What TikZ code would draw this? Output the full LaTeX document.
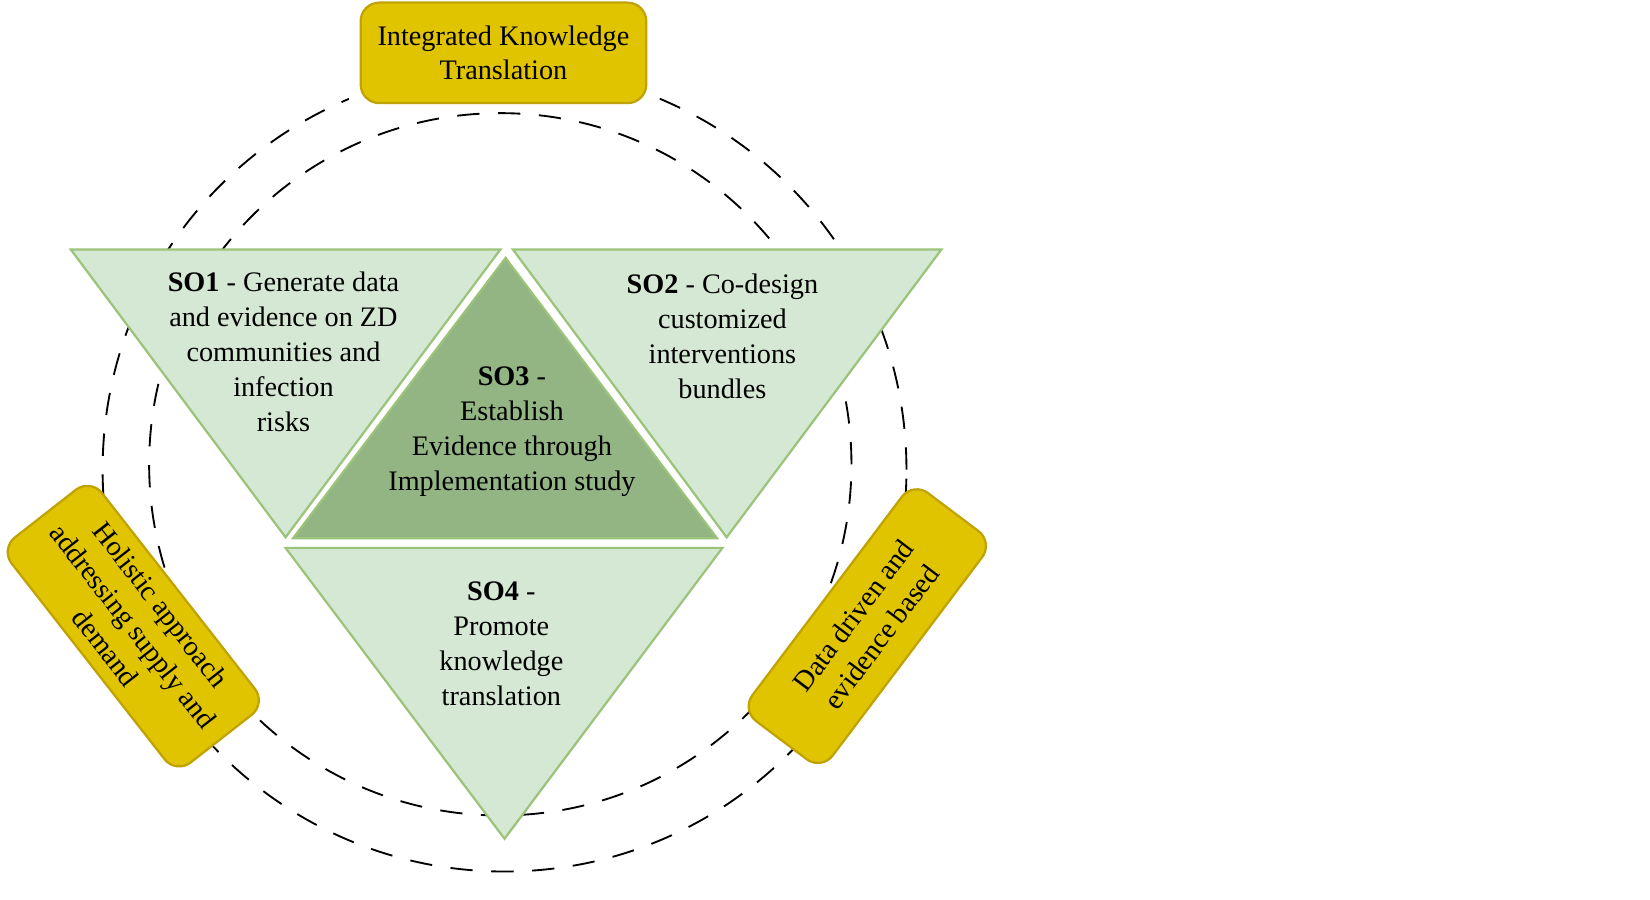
\documentclass[tikz,border=0pt]{standalone}
\usepackage{fontspec}
\setmainfont{Liberation Serif}
\usetikzlibrary{positioning}
\definecolor{lightso}{HTML}{D5E8D4}
\definecolor{darkso}{HTML}{93B584}
\definecolor{edgeso}{HTML}{9BC37A}
\definecolor{goldbox}{HTML}{E0C400}
\definecolor{goldedge}{HTML}{C0A200}
\tikzset{
	tri/.style={fill=lightso, draw=edgeso, line width=0.6pt},
	sotext/.style={align=center, font=\fontsize{7.6}{9.4}\selectfont},
	pillar/.style={fill=goldbox, draw=goldedge, rounded corners=5pt, line width=0.6pt, align=center, font=\fontsize{7.6}{9.4}\selectfont, minimum width=2.7cm, minimum height=0.95cm}
}
\begin{document}
\begin{tikzpicture}
	\useasboundingbox (0,0.5) rectangle (15.6,9);
	\draw[dashed, dash pattern=on 6pt off 5pt, line width=0.5pt] (4.77,4.56) circle (3.80);
	\draw[dashed, dash pattern=on 6pt off 5pt, line width=0.5pt] (4.73,4.61) circle (3.32);
	\fill[white] (3.3,8.0) rectangle (6.2,9);
	\draw[tri] (0.67,6.64) -- (4.73,6.64) -- (2.70,3.92) -- cycle;
	\draw[tri] (4.85,6.64) -- (8.90,6.64) -- (6.87,3.92) -- cycle;
	\draw[tri] (2.70,3.82) -- (6.83,3.82) -- (4.77,1.07) -- cycle;
	\draw[tri, fill=darkso, draw=white, line width=1.5pt] (4.78,6.62) -- (2.73,3.88) -- (6.82,3.88) -- cycle;
	\draw[tri, fill=darkso] (4.78,6.56) -- (2.77,3.91) -- (6.78,3.91) -- cycle;
	\node[sotext] (so1) at (2.68,5.67) {\textbf{SO1} - Generate data\\and evidence on ZD\\communities and\\infection\\risks};
	\node[sotext] (so2) at (6.83,5.82) {\textbf{SO2} - Co-design\\customized\\interventions\\bundles};
	\node[sotext] (so3) at (4.84,4.92) {\textbf{SO3} -\\Establish\\Evidence through\\Implementation study};
	\node[sotext] (so4) at (4.74,2.91) {\textbf{SO4} -\\Promote\\knowledge\\translation};
	\node[pillar] (ikt) at (4.76,8.50) {Integrated Knowledge\\Translation};
	\node[pillar, rotate=-52] (holistic) at (1.26,3.08) {Holistic approach\\addressing supply and\\demand};
	\node[pillar, rotate=53] (datadriven) at (8.20,3.08) {Data driven and\\evidence based};
\end{tikzpicture}
\end{document}
